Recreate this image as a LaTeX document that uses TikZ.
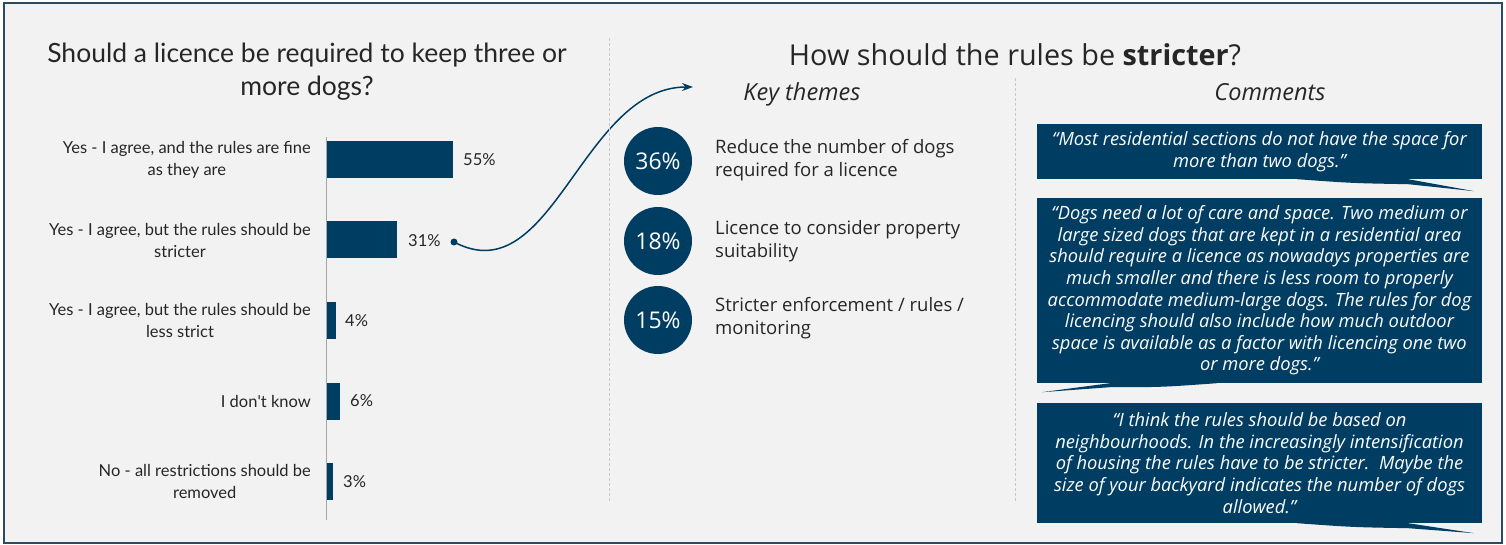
\documentclass[tikz,border=0pt]{standalone}
\usepackage{fontspec}
\setmainfont{Lato}
\newfontfamily\rfont{Open Sans}
\usetikzlibrary{arrows.meta,calc}
\definecolor{navy}{HTML}{003D63}
\definecolor{bgc}{HTML}{F2F2F2}
\definecolor{framec}{HTML}{2C4A60}
\definecolor{txt}{HTML}{262626}
\definecolor{sepc}{HTML}{C8C8C8}
\definecolor{axisc}{HTML}{A6A6A6}
\begin{document}
\begin{tikzpicture}[x=1pt,y=-1pt,
  titletext/.style={font=\fontsize{26.5}{33}\selectfont, text=txt, align=center, inner sep=0},
  rtitletext/.style={font=\rfont\fontsize{28.8}{33}\selectfont, text=txt, align=center, inner sep=0},
  headtext/.style={font=\rfont\fontsize{23.5}{24}\selectfont\itshape, text=txt, inner sep=0, anchor=base},
  barlabel/.style={font=\fontsize{16.5}{22}\selectfont, text=txt, align=center, anchor=east, inner sep=0},
  barbox/.style={fill=navy, inner sep=0, minimum height=37, anchor=west},
  pct/.style={font=\fontsize{16.5}{18}\selectfont, text=txt, anchor=west, inner sep=0},
  themecircle/.style={circle, fill=navy, minimum size=68, inner sep=0, text=white, font=\rfont\fontsize{23}{23}\selectfont},
  themetext/.style={font=\rfont\fontsize{18.5}{23}\selectfont, text=txt, align=left, anchor=west, inner sep=0},
  quotebox/.style={fill=navy, text=white, font=\rfont\fontsize{18.3}{21.6}\selectfont\itshape, align=center, minimum width=445, inner sep=0},
  sepline/.style={sepc, line width=0.8, dash pattern=on 3pt off 2pt}
]
\useasboundingbox (0,0) rectangle (1506,545);
\fill[white] (0,0) rectangle (1506,545);
\fill[bgc] (4,3) rectangle (1502,543);
\draw[framec, line width=2.2] (4,3) rectangle (1502,543);

% left title
\node[titletext] (ltitle) at (307,71.5) {Should a licence be required to keep three or\\more dogs?};

% axis
\draw[axisc, line width=0.8] (326,137) -- (326,520);

% bars
\node[barbox, minimum width=126] (b1) at (327,159.5) {};
\node[barbox, minimum width=70] (b2) at (327,240) {};
\node[barbox, minimum width=9] (b3) at (327,320) {};
\node[barbox, minimum width=13] (b4) at (327,401) {};
\node[barbox, minimum width=6] (b5) at (327,481) {};

\node[barlabel] (l1) at (311,159.5) {Yes - I agree, and the rules are fine\\as they are};
\node[barlabel] (l2) at (311,240) {Yes - I agree, but the rules should be\\stricter};
\node[barlabel] (l3) at (311,320) {Yes - I agree, but the rules should be\\less strict};
\node[barlabel] (l4) at (311,401) {I don\textquotesingle t know};
\node[barlabel] (l5) at (311,481) {No - all restrictions should be\\removed};

\node[pct] (p1) at (463,160) {55\%};
\node[pct] (p2) at (408,241) {31\%};
\node[pct] (p3) at (345,321) {4\%};
\node[pct] (p4) at (350,401) {6\%};
\node[pct] (p5) at (343,482) {3\%};

% curved arrow
\node[circle, fill=navy, minimum size=7, inner sep=0] (dot) at (454,242) {};
\coordinate (arrowend) at (693,87);
\draw[navy, line width=1.5, -{Stealth[length=11pt,width=8pt]}] (dot.center) to[out=-28,in=180] (arrowend);

% separators
\draw[sepline] (609,38) -- (609,503);
\draw[sepline] (1015,78) -- (1015,503);

% right title
\node[rtitletext] (rtitle) at (1015,55) {How should the rules be \textbf{stricter}?};
\node[headtext] (kthemes) at (802,101) {Key themes};
\node[headtext] (comms) at (1270,101) {Comments};

% themes
\node[themecircle] (c1) at (658,161) {36\%};
\node[themecircle] (c2) at (658,241) {18\%};
\node[themecircle] (c3) at (658,320) {15\%};
\node[themetext] (t1) at (715,160.5) {Reduce the number of dogs\\required for a licence};
\node[themetext] (t2) at (715,241.5) {Licence to consider property\\suitability};
\node[themetext] (t3) at (715,318.5) {Stricter enforcement / rules /\\monitoring};

% comment boxes
\node[quotebox, minimum height=55] (q1) at (1259.5,151.5) {“Most residential sections do not have the space for\\more than two dogs.”};
\node[quotebox, minimum height=185] (q2) at (1259.5,290.5) {“Dogs need a lot of care and space. Two medium or\\large sized dogs that are kept in a residential area\\should require a licence as nowadays properties are\\much smaller and there is less room to properly\\accommodate medium-large dogs. The rules for dog\\licencing should also include how much outdoor\\space is available as a factor with licencing one two\\or more dogs.”};
\node[quotebox, minimum height=120] (q3) at (1259.5,463) {“I think the rules should be based on\\neighbourhoods. In the increasingly intensification\\of housing the rules have to be stricter.\ \ Maybe the\\size of your backyard indicates the number of dogs\\allowed.”};

% tails
\fill[navy] ($(q1.south east)+(-185,0)$) .. controls ($(q1.south east)+(-130,4)$) .. ($(q1.south east)+(-74,5)$) -- ($(q1.south east)+(-8,12)$) -- ($(q1.south east)+(-74,0)$) -- cycle;
\fill[navy] ($(q2.south west)+(180,0)$) .. controls ($(q2.south west)+(125,4)$) .. ($(q2.south west)+(73,4)$) -- ($(q2.south west)+(5,9)$) -- ($(q2.south west)+(73,0)$) -- cycle;
\fill[navy] ($(q3.south east)+(-185,0)$) .. controls ($(q3.south east)+(-130,4)$) .. ($(q3.south east)+(-74,5)$) -- ($(q3.south east)+(-8,10)$) -- ($(q3.south east)+(-74,0)$) -- cycle;
\end{tikzpicture}
\end{document}
